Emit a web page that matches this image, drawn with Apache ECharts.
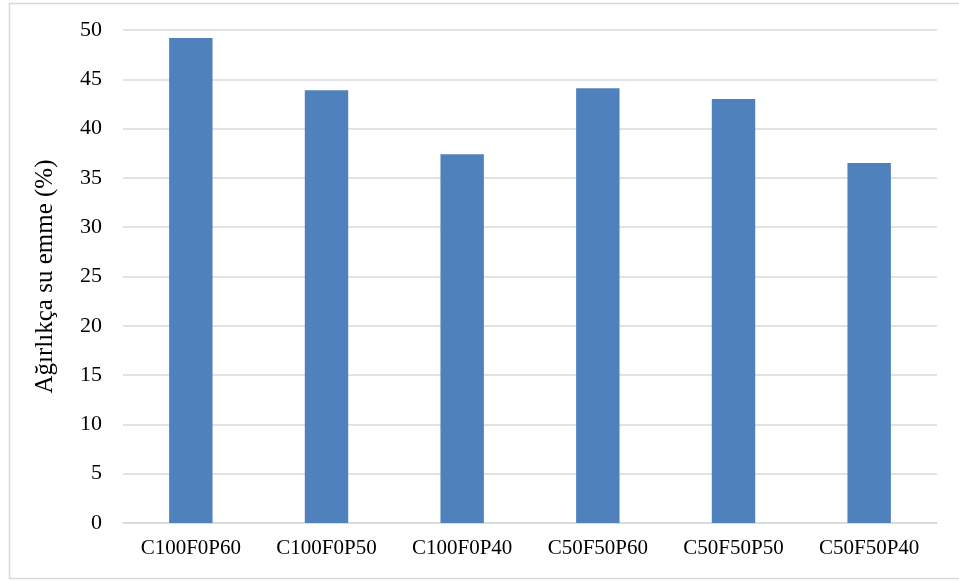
<!DOCTYPE html>
<html>
<head>
<meta charset="utf-8">
<script src="https://cdn.jsdelivr.net/npm/echarts@6/dist/echarts.min.js"></script>
<style>
  html, body { margin: 0; padding: 0; background: #fff; }
  #chart { width: 959px; height: 581px; }
</style>
</head>
<body>
<div id="chart"></div>
<script>
// Mix designs along the x axis
const categories = ['C100F0P60', 'C100F0P50', 'C100F0P40', 'C50F50P60', 'C50F50P50', 'C50F50P40'];
// Water absorption by weight (%)
const absorption = [49.2, 43.9, 37.4, 44.1, 43.0, 36.5];
// Value axis ticks
const yTicks = [0, 5, 10, 15, 20, 25, 30, 35, 40, 45, 50];
const yTitle = 'Ağırlıkça su emme (%)';

const serif = '"Liberation Serif", "Times New Roman", serif';
const chart = echarts.init(document.getElementById('chart'), null, { renderer: 'canvas' });

chart.setOption({
  backgroundColor: '#ffffff',
  animation: false,
  graphic: [{
    type: 'rect',
    left: 7, top: 1,
    shape: { width: 960, height: 575 },
    style: { fill: 'none', stroke: '#D9D9D9', lineWidth: 1.5 },
    silent: true
  }],
  grid: { left: 123, right: 22, top: 30, bottom: 58, containLabel: false },
  xAxis: {
    type: 'category',
    data: categories,
    axisLine: { show: true, lineStyle: { color: '#D9D9D9', width: 1.5 } },
    axisTick: { show: false },
    axisLabel: { color: '#000', fontFamily: serif, fontSize: 21, margin: 15 }
  },
  yAxis: {
    type: 'value',
    min: yTicks[0],
    max: yTicks[yTicks.length - 1],
    interval: yTicks[1] - yTicks[0],
    name: yTitle,
    nameLocation: 'middle',
    nameGap: 65,
    nameTextStyle: { color: '#000', fontFamily: serif, fontSize: 25 },
    axisLine: { show: false },
    axisTick: { show: false },
    axisLabel: { color: '#000', fontFamily: serif, fontSize: 22, margin: 21 },
    splitLine: { show: true, lineStyle: { color: '#D9D9D9', width: 1.5 } }
  },
  series: [{
    type: 'bar',
    data: absorption,
    barCategoryGap: '68%',
    itemStyle: { color: '#4F81BD' }
  }]
});
</script>
</body>
</html>
